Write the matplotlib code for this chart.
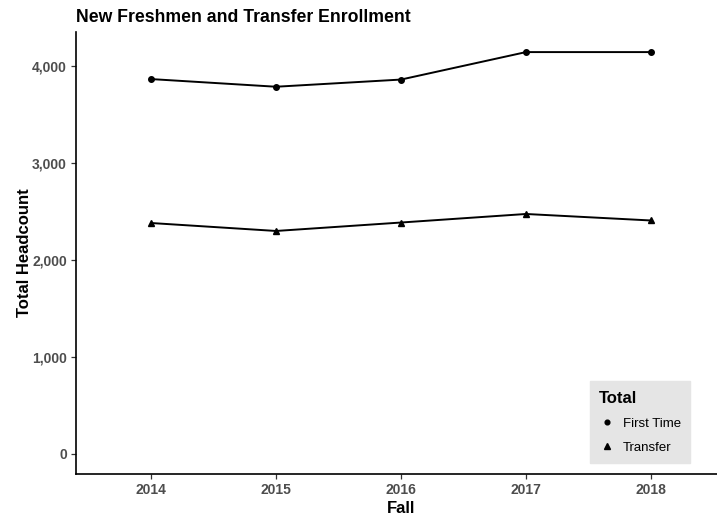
import matplotlib
matplotlib.use("Agg")
import matplotlib.pyplot as plt
from matplotlib.ticker import FuncFormatter

plt.rcParams['font.family'] = ['Liberation Sans', 'DejaVu Sans']

years = [2014, 2015, 2016, 2017, 2018]
first_time = [3862, 3783, 3857, 4140, 4140]
transfer = [2379, 2297, 2384, 2472, 2405]

fig = plt.figure(figsize=(7.17, 5.18), dpi=100)
ax = fig.add_axes([76/717, 1 - 474/518, (726 - 76)/717, (474 - 32)/518])

ax.plot(years, first_time, color='black', lw=1.4, marker='o', ms=4, label='First Time')
ax.plot(years, transfer, color='black', lw=1.4, marker='^', ms=4.5, label='Transfer')

ax.set_xlim(2013.4, 2018.6)
ax.set_ylim(-207, 4347)
ax.set_xticks(years)
ax.set_yticks([0, 1000, 2000, 3000, 4000])
ax.yaxis.set_major_formatter(FuncFormatter(lambda v, p: f"{int(v):,}"))

for s in ['top', 'right']:
    ax.spines[s].set_visible(False)
for s in ['left', 'bottom']:
    ax.spines[s].set_linewidth(1.2)
ax.tick_params(axis='both', length=3.5, width=0.9, color='#333333',
               labelcolor='#4d4d4d', labelsize=10, pad=3)
for lab in ax.get_xticklabels() + ax.get_yticklabels():
    lab.set_fontweight('bold')

ax.set_xlabel('Fall', fontsize=12, fontweight='bold', labelpad=3)
ax.set_ylabel('Total Headcount', fontsize=12, fontweight='bold', labelpad=0)
fig.text(76/717, 1 - 17/518, 'New Freshmen and Transfer Enrollment',
         fontsize=12.7, fontweight='bold', va='center', ha='left')

leg = ax.legend(title='Total', loc='lower right', frameon=True, fancybox=False,
                edgecolor='#e5e5e5', facecolor='#e5e5e5', framealpha=1,
                fontsize=9.5, handlelength=1.2, handletextpad=0.6,
                borderpad=0.7, labelspacing=0.9, markerscale=0.85,
                borderaxespad=0)
leg.get_title().set_fontweight('bold')
leg.get_title().set_fontsize(12)
leg._legend_box.align = 'left'
for h in leg.legend_handles:
    h.set_linestyle('None')
leg.set_bbox_to_anchor((690/717, 1 - 463/518), transform=fig.transFigure)

fig.savefig('out.png', dpi=100)
